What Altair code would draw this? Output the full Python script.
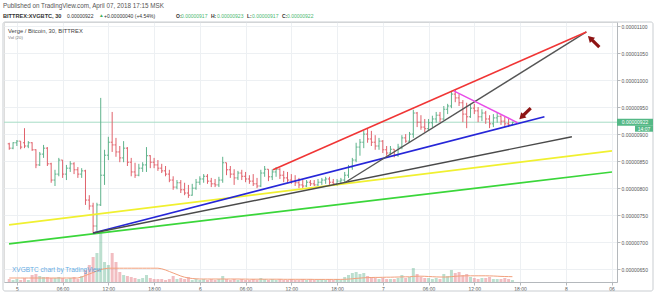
import altair as alt
import pandas as pd

# ---------------- data (prices in satoshi, 1e-8 BTC) ----------------
opens = [882, 874, 884, 887, 884, 878, 884, 871, 843, 863,
         874, 845, 815, 826, 852, 826, 837, 845, 834, 826,
         832, 778, 767, 730, 769, 824, 861, 885, 880, 867,
         856, 874, 848, 830, 824, 837, 843, 860, 848, 843,
         837, 832, 826, 815, 802, 810, 797, 791, 787, 800,
         811, 817, 822, 813, 808, 806, 815, 847, 834, 826,
         819, 828, 822, 817, 813, 808, 804, 828, 835, 821,
         830, 835, 824, 819, 815, 813, 810, 806, 804, 811,
         808, 806, 811, 815, 817, 811, 808, 813, 815, 824,
         839, 852, 876, 885, 900, 891, 885, 878, 887, 871,
         865, 872, 861, 876, 893, 887, 900, 939, 922, 913,
         910, 921, 928, 935, 928, 946, 952, 974, 967, 958,
         937, 932, 948, 943, 932, 939, 928, 919, 930, 933,
         924, 919, 917]
highs = [884, 885, 889, 887, 911, 887, 885, 872, 867, 880,
         876, 847, 834, 856, 852, 843, 850, 848, 839, 837,
         834, 787, 773, 773, 967, 871, 895, 941, 893, 878,
         887, 876, 856, 847, 845, 848, 876, 861, 856, 852,
         845, 841, 834, 822, 815, 815, 810, 806, 808, 817,
         822, 826, 826, 819, 817, 821, 858, 847, 841, 835,
         832, 834, 830, 824, 826, 819, 834, 841, 835, 835,
         839, 837, 832, 830, 826, 824, 819, 815, 815, 815,
         815, 817, 819, 821, 821, 817, 817, 819, 830, 843,
         856, 884, 891, 906, 911, 906, 898, 893, 889, 878,
         878, 872, 882, 898, 900, 904, 945, 941, 935, 928,
         928, 934, 941, 941, 952, 956, 980, 982, 974, 963,
         958, 956, 956, 950, 946, 943, 935, 937, 939, 935,
         932, 928, 923]
lows = [871, 872, 878, 872, 874, 874, 869, 837, 841, 856,
        841, 810, 804, 822, 819, 815, 830, 826, 819, 819,
        769, 760, 717, 721, 767, 806, 852, 867, 858, 848,
        848, 841, 822, 819, 822, 830, 830, 837, 837, 832,
        828, 822, 811, 797, 798, 791, 787, 782, 786, 797,
        806, 810, 808, 802, 802, 802, 810, 824, 819, 806,
        815, 815, 811, 808, 804, 800, 802, 821, 813, 815,
        821, 817, 811, 810, 808, 804, 800, 800, 802, 804,
        804, 804, 806, 808, 806, 804, 804, 806, 810, 819,
        834, 848, 860, 874, 884, 878, 871, 871, 865, 860,
        861, 857, 858, 872, 884, 885, 893, 913, 908, 904,
        906, 913, 921, 922, 926, 937, 948, 959, 952, 922,
        911, 930, 937, 922, 924, 919, 911, 913, 921, 917,
        913, 913, 917]
closes = [874, 884, 887, 876, 878, 884, 871, 843, 863, 874,
          845, 815, 826, 852, 826, 837, 845, 834, 826, 832,
          778, 767, 730, 769, 824, 861, 885, 880, 867, 856,
          874, 848, 830, 824, 837, 843, 860, 848, 843, 837,
          832, 826, 815, 802, 810, 797, 791, 787, 800, 811,
          817, 822, 813, 808, 806, 815, 847, 834, 826, 819,
          828, 822, 817, 813, 808, 804, 828, 835, 821, 830,
          835, 824, 819, 815, 813, 810, 806, 804, 811, 808,
          806, 811, 815, 817, 811, 808, 813, 815, 824, 839,
          852, 876, 885, 900, 891, 885, 878, 887, 871, 865,
          872, 861, 876, 893, 887, 900, 939, 922, 913, 910,
          921, 928, 935, 928, 946, 952, 974, 967, 958, 937,
          932, 948, 943, 932, 939, 928, 919, 930, 933, 924,
          919, 917, 922]
# volume in units of 100k XVG
volumes = [3, 2, 3, 2, 4, 2, 7, 8, 6, 5,
           5, 4, 4, 5, 4, 3, 4, 5, 3, 6,
           12, 17, 25, 29, 50, 20, 17, 29, 20, 10,
           7, 6, 5, 4, 3, 4, 7, 4, 3, 3,
           3, 2, 3, 6, 3, 4, 3, 5, 2, 3,
           2, 3, 2, 3, 2, 3, 6, 3, 2, 3,
           2, 3, 2, 2, 3, 2, 4, 3, 2, 3,
           2, 3, 2, 2, 3, 2, 2, 3, 2, 3,
           2, 2, 3, 2, 3, 2, 3, 2, 5, 7,
           9, 10, 8, 9, 6, 5, 4, 3, 4, 3,
           3, 3, 4, 7, 4, 5, 14, 8, 5, 4,
           4, 3, 4, 3, 8, 6, 12, 9, 10, 7,
           8, 5, 4, 3, 4, 4, 5, 3, 3, 3,
           4, 3, 2]
vol_ma20 = [4, 4, 4, 4, 4, 4, 4, 4, 4, 4,
            4, 4, 4, 4, 4, 4, 4, 4, 4, 5,
            6.5, 8, 9.5, 11, 12.5, 13.3, 13.8, 13.8, 13.8, 13.8,
            13.8, 13.8, 13.8, 13.8, 13.8, 13.8, 13.8, 13.8, 13.8, 13.8,
            13.2, 12, 10.5, 9, 7.5, 6, 4.8, 4, 3.5, 3.2,
            3, 3, 3, 3, 3, 3, 3, 3, 3, 3,
            3, 2.9, 2.9, 2.8, 2.8, 2.8, 2.8, 2.8, 2.8, 2.8,
            2.8, 2.8, 2.7, 2.7, 2.7, 2.7, 2.7, 2.7, 2.7, 2.7,
            2.6, 2.6, 2.6, 2.6, 2.6, 2.6, 2.6, 2.6, 2.7, 2.9,
            3.2, 3.6, 3.9, 4.2, 4.4, 4.5, 4.6, 4.6, 4.7, 4.8,
            4.8, 4.9, 5, 5.1, 5.2, 5.2, 5.6, 5.8, 5.8, 5.7,
            5.5, 5.3, 5.1, 5, 5, 5, 5.4, 5.7, 6, 6.1,
            6.2, 6.2, 6.2, 6.2, 6.2, 6.2, 6.1, 6, 5.8, 5.6,
            5.5, 5.4, 5.3]

first_hour = -1.0   # first bar: 4 Apr 23:00 (hours counted from 5 Apr 00:00)
bar_hours = 0.5     # 30-minute bars

x_tick_values = [0, 6, 12, 18, 24, 30, 36, 42, 48, 54, 60, 66, 72, 78]
x_tick_labels = ["5", "06:00", "12:00", "18:00", "6", "06:00", "12:00", "18:00",
                 "7", "06:00", "12:00", "18:00", "8", "06"]
y_tick_values = [650, 700, 750, 800, 850, 900, 950, 1000, 1050, 1100]

# drawn trend lines: (hour, satoshi) endpoints
line_names = ["green", "yellow", "blue", "dark_low", "dark_up", "red", "magenta"]
line_t0 = [-1.03, -1.03, 10.0, 10.0, 43.0, 33.6, 57.3]
line_p0 = [697, 732, 717, 717, 810, 834, 980]
line_t1 = [78.06, 78.06, 69.2, 72.8, 74.7, 74.7, 65.7]
line_p1 = [830, 869, 932, 895, 1089, 1089, 921]

# arrow drawings (tip and tail)
arrow_head_t = [75.3, 66.3]
arrow_head_p = [1076, 933]
arrow_tail_t = [76.4, 67.4]
arrow_tail_p = [1061, 948]

change_text = "+0.00000040 (+4.54%)"
countdown = "14:07"

# ---------------- styles ----------------
UP = "#5fb38c"
DOWN = "#e0616b"
FONT = "Liberation Sans"
LINE_COLORS = {"green": "#3ad63a", "yellow": "#f0f030", "blue": "#2626d8",
               "dark_low": "#4a4a4a", "dark_up": "#555555", "red": "#f03535",
               "magenta": "#e84de8"}
LINE_WIDTHS = {"green": 1.6, "yellow": 1.6, "blue": 1.6, "dark_low": 1.4,
               "dark_up": 1.4, "red": 1.6, "magenta": 1.4}
ARROW_ANGLES = [315, 225]
ARROW_COLOR = "#8e1414"
GRID = "#edf0f3"
AXIS_C = "#b4b8bc"

n = len(closes)
df = pd.DataFrame({
    "t": [first_hour + bar_hours * i for i in range(n)],
    "open": opens, "high": highs, "low": lows, "close": closes,
    "vol": volumes, "ma": vol_ma20,
})
df["t_l"] = df["t"] - 0.2
df["t_r"] = df["t"] + 0.2

xs = alt.Scale(domain=[-1.032, 78.06], nice=False, zero=False)
ys = alt.Scale(domain=[626.4, 1107.4], nice=False, zero=False)
vs = alt.Scale(domain=[0, 260], nice=False, zero=True)

expr = "''"
for v, lab in reversed(list(zip(x_tick_values, x_tick_labels))):
    expr = f"datum.value == {v} ? '{lab}' : ({expr})"

x_axis = alt.Axis(values=x_tick_values, labelExpr=expr, title=None, grid=True,
                  gridColor=GRID, domainColor=AXIS_C, tickColor=AXIS_C, tickSize=3,
                  labelFontSize=5, labelColor="#555555", labelFont=FONT,
                  labelPadding=1, labelFlush=True)
y_axis = alt.Axis(orient="right", values=y_tick_values,
                  labelExpr="format(datum.value/1e8, '.8f')", title=None, grid=True,
                  gridColor=GRID, domainColor=AXIS_C, tickColor=AXIS_C, tickSize=3,
                  labelFontSize=5, labelColor="#555555", labelFont=FONT, labelPadding=1)

dir_color = alt.condition("datum.close >= datum.open", alt.value(UP), alt.value(DOWN))
base = alt.Chart(df)

# ---- volume pane ----
vol_bars = base.mark_bar(size=3, opacity=0.42, orient="vertical").encode(
    x=alt.X("t:Q", scale=xs, axis=x_axis),
    y=alt.Y("vol:Q", scale=vs, axis=None),
    color=dir_color,
)
vol_line = base.mark_line(color="#f2a07c", strokeWidth=1).encode(
    x=alt.X("t:Q", scale=xs, axis=x_axis),
    y=alt.Y("ma:Q", scale=vs, axis=None),
)
vol_layer = alt.layer(vol_bars, vol_line)

# ---- price pane ----
last = pd.DataFrame({"p": [closes[-1]]})
price_line = alt.Chart(last).mark_rule(color="#a6dcc6", strokeWidth=1).encode(
    y=alt.Y("p:Q", scale=ys, axis=y_axis))

wick = base.mark_rule(strokeWidth=1).encode(
    x=alt.X("t:Q", scale=xs, axis=x_axis),
    y=alt.Y("low:Q", scale=ys, axis=y_axis), y2="high:Q", color=dir_color)
otick = base.mark_rule(strokeWidth=1).encode(
    x=alt.X("t_l:Q", scale=xs, axis=x_axis), x2="t:Q",
    y=alt.Y("open:Q", scale=ys, axis=y_axis), color=dir_color)
ctick = base.mark_rule(strokeWidth=1).encode(
    x=alt.X("t:Q", scale=xs, axis=x_axis), x2="t_r:Q",
    y=alt.Y("close:Q", scale=ys, axis=y_axis), color=dir_color)

layers = [price_line, wick, otick, ctick]
for i, name in enumerate(line_names):
    ld = pd.DataFrame({"t": [line_t0[i], line_t1[i]], "p": [line_p0[i], line_p1[i]]})
    layers.append(alt.Chart(ld).mark_line(color=LINE_COLORS[name],
                                          strokeWidth=LINE_WIDTHS[name]).encode(
        x=alt.X("t:Q", scale=xs, axis=x_axis), y=alt.Y("p:Q", scale=ys, axis=y_axis)))

for i in range(len(arrow_head_t)):
    ad = pd.DataFrame({"t": [arrow_tail_t[i]], "p": [arrow_tail_p[i]],
                       "t2": [arrow_head_t[i]], "p2": [arrow_head_p[i]]})
    layers.append(alt.Chart(ad).mark_rule(color=ARROW_COLOR, strokeWidth=3.2).encode(
        x=alt.X("t:Q", scale=xs, axis=x_axis), x2="t2:Q",
        y=alt.Y("p:Q", scale=ys, axis=y_axis), y2="p2:Q"))
    layers.append(alt.Chart(ad).mark_point(shape="triangle", filled=True, size=55,
                                           opacity=1, color=ARROW_COLOR,
                                           angle=ARROW_ANGLES[i]).encode(
        x=alt.X("t2:Q", scale=xs, axis=x_axis), y=alt.Y("p2:Q", scale=ys, axis=y_axis)))

# last-price label on the price axis
last_lab = pd.DataFrame({"p": [closes[-1]], "s": [f"{closes[-1] / 1e8:.8f}"],
                         "c": [countdown]})
layers.append(alt.Chart(last_lab).mark_tick(color="#54b886", size=36, thickness=7,
                                            opacity=1).encode(
    x=alt.value(631), y=alt.Y("p:Q", scale=ys, axis=y_axis)))
layers.append(alt.Chart(last_lab).mark_tick(color="#54b886", size=18, thickness=6,
                                            opacity=1, yOffset=6.5).encode(
    x=alt.value(640), y=alt.Y("p:Q", scale=ys, axis=y_axis)))
layers.append(alt.Chart(last_lab).mark_text(color="white", fontSize=5, font=FONT,
                                            align="center", baseline="middle").encode(
    x=alt.value(631), y=alt.Y("p:Q", scale=ys, axis=y_axis), text="s:N"))
layers.append(alt.Chart(last_lab).mark_text(color="white", fontSize=5, font=FONT,
                                            align="center", baseline="middle",
                                            dy=6.5).encode(
    x=alt.value(640), y=alt.Y("p:Q", scale=ys, axis=y_axis), text="c:N"))

price_layer = alt.layer(*layers)


def label(text, x, y, size, color, weight="normal", opacity=1.0):
    return alt.Chart(pd.DataFrame({"s": [text]})).mark_text(
        align="left", baseline="middle", fontSize=size, color=color,
        fontWeight=weight, font=FONT, opacity=opacity).encode(
        x=alt.value(x), y=alt.value(y), text="s:N")


fmt = lambda v: f"{v / 1e8:.8f}"
H2 = 5.0
texts = [
    label("Published on TradingView.com, April 07, 2018 17:15 MSK", -1, -16.5, 6.3, "#555555"),
    label("BITTREX:XVGBTC, 30", -1, -6.5, 5.6, "#333333", "bold"),
    label(fmt(closes[-1]), 63, -6.5, H2, "#333333"),
    label("\u25b2", 95, -6.5, 4.8, "#3fae5a"),
    label(change_text, 100, -6.5, H2, "#333333"),
    label("O:", 172, -6.5, H2, "#333333", "bold"),
    label(fmt(opens[-1]), 177, -6.5, H2, "#4cb870"),
    label("H:", 207, -6.5, H2, "#333333", "bold"),
    label(fmt(highs[-1]), 213, -6.5, H2, "#4cb870"),
    label("L:", 243, -6.5, H2, "#333333", "bold"),
    label(fmt(lows[-1]), 248, -6.5, H2, "#4cb870"),
    label("C:", 278, -6.5, H2, "#333333", "bold"),
    label(fmt(closes[-1]), 283, -6.5, H2, "#4cb870"),
    label("Verge / Bitcoin, 30, BITTREX", 4, 9, 5.8, "#444444"),
    label("Vol (20)", 4, 15.5, 4.3, "#777777"),
    label("XVGBTC chart by TradingView", 8, 248, 6.5, "#4a9ee0", opacity=0.85),
]

frame = alt.Chart(pd.DataFrame({"a": [0]})).mark_rect(
    fillOpacity=0, stroke="#c9cdd1", strokeWidth=1, cornerRadius=2).encode(
    x=alt.value(-1), x2=alt.value(649), y=alt.value(0), y2=alt.value(269))

chart = alt.layer(frame, vol_layer, price_layer, *texts).resolve_scale(
    y="independent"
).properties(
    width=613, height=260,
    padding={"left": 4, "top": 22, "right": 37, "bottom": 11},
    autosize=alt.AutoSizeParams(type="none"),
).configure_view(strokeWidth=0).configure(background="white")

chart.save("out.html", embed_options={"renderer": "svg", "actions": False})
